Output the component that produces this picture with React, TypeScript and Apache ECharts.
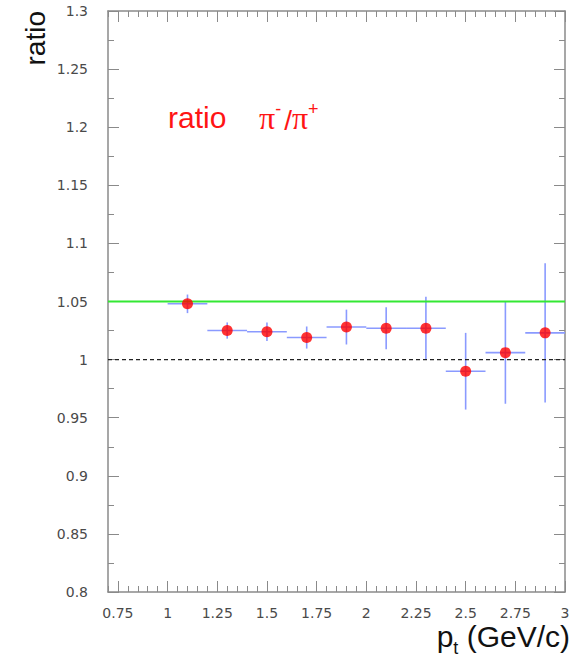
import React, { useEffect, useRef } from "react";
import * as echarts from "echarts";

// ---- data ----
const ptCenters = [1.1, 1.3, 1.5, 1.7, 1.9, 2.1, 2.3, 2.5, 2.7, 2.9];
const ratioValues = [1.048, 1.025, 1.024, 1.019, 1.028, 1.027, 1.027, 0.990, 1.006, 1.023];
const ratioErrors = [0.008, 0.007, 0.008, 0.0095, 0.015, 0.018, 0.027, 0.033, 0.044, 0.06];
const ptHalfWidths = [0.1, 0.1, 0.1, 0.1, 0.1, 0.1, 0.1, 0.1, 0.1, 0.1];

const greenLevel = 1.05;
const unityLevel = 1.0;

const xMajorTicks = [0.75, 1, 1.25, 1.5, 1.75, 2, 2.25, 2.5, 2.75, 3];
const xMinorTicks = [
  0.7, 0.75, 0.8, 0.85, 0.9, 0.95, 1, 1.05, 1.1, 1.15, 1.2, 1.25, 1.3, 1.35, 1.4, 1.45,
  1.5, 1.55, 1.6, 1.65, 1.7, 1.75, 1.8, 1.85, 1.9, 1.95, 2, 2.05, 2.1, 2.15, 2.2, 2.25,
  2.3, 2.35, 2.4, 2.45, 2.5, 2.55, 2.6, 2.65, 2.7, 2.75, 2.8, 2.85, 2.9, 2.95, 3,
];
const xRange = [0.7, 3];
const yRange = [0.8, 1.3];
const yStep = 0.05;

const AXIS_COLOR = "#8a8a8a";
const LABEL_COLOR = "#4a4a4a";
const LABEL_FONT = "DejaVu Sans";
const TITLE_FONT = "Liberation Sans";
const RED = "#ff1414";

export default function App() {
  const ref = useRef<HTMLDivElement>(null);

  useEffect(() => {
    if (!ref.current) return;
    const chart = echarts.init(ref.current, undefined, { renderer: "svg" });

    const errData = ptCenters.map((x, i) => [x, ratioValues[i], ptHalfWidths[i], ratioErrors[i]]);
    const pointData = ptCenters.map((x, i) => [x, ratioValues[i]]);

    const xAxisBase = (position: "top" | "bottom", values: number[], len: number, labels: boolean, line: boolean) => ({
      type: "value",
      position,
      min: xRange[0],
      max: xRange[1],
      axisLine: { show: line, onZero: false, lineStyle: { color: AXIS_COLOR, width: 1.5 } },
      axisTick: { show: true, inside: true, length: len, customValues: values, lineStyle: { color: AXIS_COLOR, width: 1 } },
      axisLabel: labels
        ? {
            show: true,
            customValues: xMajorTicks,
            margin: 14,
            color: LABEL_COLOR,
            fontFamily: LABEL_FONT,
            fontSize: 14,
            formatter: (v: number) => String(v),
          }
        : { show: false },
      splitLine: { show: false },
    });

    const yAxisBase = (position: "left" | "right", labels: boolean) => ({
      type: "value",
      position,
      min: yRange[0],
      max: yRange[1],
      interval: yStep,
      axisLine: { show: true, onZero: false, lineStyle: { color: AXIS_COLOR, width: 1.5 } },
      axisTick: { show: true, inside: true, length: 11, lineStyle: { color: AXIS_COLOR, width: 1 } },
      minorTick: { show: true, splitNumber: 2, length: 6, lineStyle: { color: AXIS_COLOR, width: 1 } },
      axisLabel: labels
        ? {
            show: true,
            margin: 20,
            color: LABEL_COLOR,
            fontFamily: LABEL_FONT,
            fontSize: 14,
            formatter: (v: number) => String(Math.round(v * 100) / 100),
          }
        : { show: false },
      splitLine: { show: false },
      minorSplitLine: { show: false },
    });

    chart.setOption({
      animation: false,
      backgroundColor: "#ffffff",
      grid: { left: 108, right: 10, top: 11, bottom: 67, containLabel: false },
      xAxis: [
        xAxisBase("bottom", xMajorTicks, 11, true, true),
        xAxisBase("bottom", xMinorTicks, 6, false, false),
        xAxisBase("top", xMajorTicks, 11, false, true),
        xAxisBase("top", xMinorTicks, 6, false, false),
      ],
      yAxis: [yAxisBase("left", true), yAxisBase("right", false)],
      graphic: [
        {
          type: "text",
          x: 49,
          y: 11,
          rotation: Math.PI / 2,
          style: {
            text: "ratio",
            fontFamily: TITLE_FONT,
            fontSize: 28,
            fill: "#111",
            align: "right",
            verticalAlign: "bottom",
          },
        },
        {
          type: "text",
          x: 168,
          y: 117,
          style: {
            text: "ratio",
            fontFamily: TITLE_FONT,
            fontSize: 30,
            fill: RED,
            align: "left",
            verticalAlign: "middle",
          },
        },
        {
          type: "text",
          x: 259,
          y: 117,
          style: {
            text: "{p|π}{sup|-}{s|/}{p|π}{sup|+}",
            align: "left",
            verticalAlign: "middle",
            fill: RED,
            rich: {
              p: { fontFamily: "Liberation Serif", fontSize: 32, fill: RED, lineHeight: 34, verticalAlign: "bottom" },
              s: { fontFamily: TITLE_FONT, fontSize: 28, fill: RED, lineHeight: 34, verticalAlign: "bottom" },
              sup: { fontFamily: TITLE_FONT, fontSize: 18, fill: RED, lineHeight: 34, verticalAlign: "top", padding: [0, 3, 0, 0] },
            },
          },
        },
        {
          type: "text",
          x: 570,
          y: 657,
          style: {
            text: "{a|p}{sub|t}{a| (GeV/c)}",
            align: "right",
            verticalAlign: "bottom",
            fill: "#111",
            rich: {
              a: { fontFamily: TITLE_FONT, fontSize: 30, fill: "#111", lineHeight: 36, verticalAlign: "top" },
              sub: { fontFamily: TITLE_FONT, fontSize: 18, fill: "#111", lineHeight: 36, verticalAlign: "bottom" },
            },
          },
        },
      ],
      series: [
        {
          type: "custom",
          xAxisIndex: 0,
          yAxisIndex: 0,
          z: 2,
          data: errData,
          renderItem: (params: any, api: any) => {
            const x = api.value(0);
            const y = api.value(1);
            const ex = api.value(2);
            const ey = api.value(3);
            const l = api.coord([x - ex, y]);
            const r = api.coord([x + ex, y]);
            const t = api.coord([x, y + ey]);
            const b = api.coord([x, y - ey]);
            const style = { stroke: "#8a9aff", lineWidth: 1.6 };
            return {
              type: "group",
              children: [
                { type: "line", shape: { x1: l[0], y1: l[1], x2: r[0], y2: r[1] }, style },
                { type: "line", shape: { x1: t[0], y1: t[1], x2: b[0], y2: b[1] }, style },
              ],
            };
          },
        },
        {
          type: "line",
          xAxisIndex: 0,
          yAxisIndex: 0,
          z: 3,
          data: [
            [xRange[0], greenLevel],
            [xRange[1], greenLevel],
          ],
          symbol: "none",
          lineStyle: { color: "#33e833", width: 1.8 },
        },
        {
          type: "line",
          xAxisIndex: 0,
          yAxisIndex: 0,
          z: 3,
          data: [
            [xRange[0], unityLevel],
            [xRange[1], unityLevel],
          ],
          symbol: "none",
          lineStyle: { color: "#222222", width: 1.4, type: [4, 3] },
        },
        {
          type: "scatter",
          xAxisIndex: 0,
          yAxisIndex: 0,
          z: 4,
          data: pointData,
          symbol: "circle",
          symbolSize: 11,
          itemStyle: { color: "#ff0000" },
        },
      ],
    });

    return () => chart.dispose();
  }, []);

  return (
    <div
      ref={ref}
      style={{ position: "fixed", left: 0, top: 0, width: 575, height: 659, background: "#fff" }}
    />
  );
}
